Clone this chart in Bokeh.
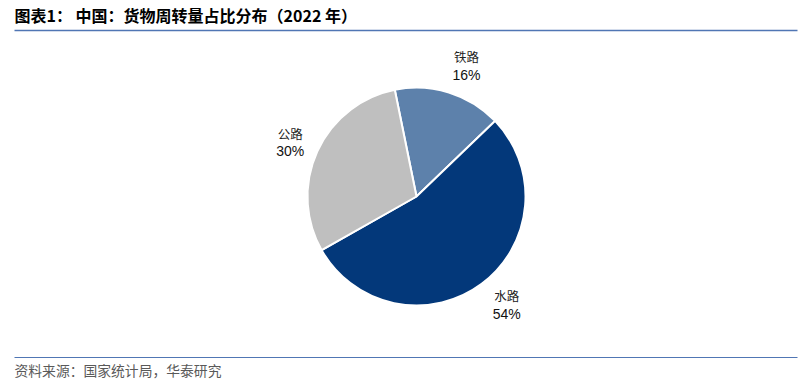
import math
from bokeh.plotting import figure
from bokeh.models import Range1d, ColumnDataSource
from bokeh.core.properties import value
from bokeh.embed import file_html
from bokeh.resources import INLINE

categories = ["铁路", "水路", "公路"]
shares = [16, 54, 30]
colors = ["#5D81AB", "#03387A", "#BFBFBF"]
start_offset = -11.5  # degrees clockwise from 12 o'clock
# small label nudges (layout only), pixels
nudge_x = [8, 6, 2]
nudge_y = [-4, 5, -4]

W, H = 811, 381
p = figure(width=W, height=H, x_range=Range1d(0, W), y_range=Range1d(0, H),
           output_backend="svg", toolbar_location=None, min_border=0)
p.axis.visible = False
p.grid.visible = False
p.outline_line_color = None
p.background_fill_color = "white"

cx, cy, r = 416, H - 196, 109
total = sum(shares)
starts, ends, lx, ly, pct = [], [], [], [], []
acc = start_offset
for i, s in enumerate(shares):
    t1 = acc
    t2 = acc + 360.0 * s / total
    starts.append(math.radians(90 - t2))
    ends.append(math.radians(90 - t1))
    mid = math.radians(90 - (t1 + t2) / 2)
    lx.append(cx + 141 * math.cos(mid) + nudge_x[i])
    ly.append(cy + 141 * math.sin(mid) + nudge_y[i])
    pct.append(f"{s}%")
    acc = t2

src = ColumnDataSource(dict(start=starts, end=ends, color=colors, cat=categories,
                            pct=pct, lx=lx, ly=[y + 9 for y in ly], ly2=[y - 9 for y in ly]))
p.wedge(x=cx, y=cy, radius=r, start_angle="start", end_angle="end",
        fill_color="color", line_color="white", line_width=2, source=src)

p.text(x="lx", y="ly", text="cat", source=src, text_font=value("Noto Sans CJK SC"),
       text_font_size="12.5px", text_color="#222222", text_align="center", text_baseline="middle")
p.text(x="lx", y="ly2", text="pct", source=src, text_font=value("Liberation Sans"),
       text_font_size="14px", text_color="#111111", text_align="center", text_baseline="middle")

# title and rules
p.text(x=[14], y=[H - 14], text=["图表1： 中国：货物周转量占比分布（2022 年）"],
       text_font=value("Noto Sans CJK SC"), text_font_style="bold", text_font_size="16px",
       text_color="#000000", text_baseline="middle")
p.segment(x0=[14], y0=[H - 30], x1=[797], y1=[H - 30], line_color="#5076B4", line_width=1.3)
p.segment(x0=[14], y0=[H - 357], x1=[797], y1=[H - 357], line_color="#5076B4", line_width=1)
p.text(x=[14], y=[H - 369], text=["资料来源：国家统计局，华泰研究"],
       text_font=value("Noto Sans CJK SC"), text_font_size="13.8px",
       text_color="#595959", text_baseline="middle")

open("out.html", "w").write(file_html(p, INLINE))
